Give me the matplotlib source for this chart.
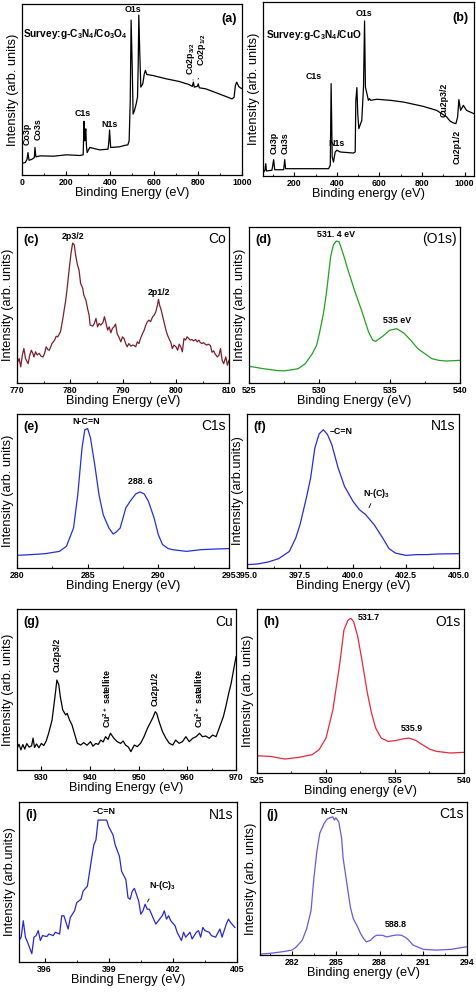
"""XPS survey and high-resolution spectra of g-C3N4/Co3O4 and g-C3N4/CuO (panels a-j)."""

import matplotlib
matplotlib.use("Agg")

import matplotlib.pyplot as plt
from matplotlib.ticker import MultipleLocator, FormatStrFormatter

plt.rcParams["font.family"] = ["Liberation Sans", "DejaVu Sans"]
plt.rcParams["mathtext.fontset"] = "custom"
plt.rcParams["mathtext.rm"] = "Liberation Sans"
plt.rcParams["mathtext.bf"] = "Liberation Sans:bold"

# ── (a) survey g-C3N4/Co3O4 ──────────────────────────────────────
a_ev = [0, 15, 23, 27, 32, 45, 56, 59, 63, 83, 143, 203, 263, 278, 282, 285, 287,
        290, 293, 296, 308, 353, 391, 395, 398, 403, 444, 466, 481, 487, 492, 496,
        501, 505, 511, 519, 525, 528, 531, 535, 540, 549, 556, 561, 567, 594, 654,
        714, 759, 774, 779, 783, 797, 801, 806, 835, 895, 955, 964, 970, 976, 985,
        992, 1000]
a_int = [6.9, 7.3, 9.2, 13.1, 8.6, 9.2, 10.2, 16.1, 10.6, 11.2, 11.0, 11.8, 11.4,
         11.8, 31.4, 20.0, 23.9, 27.0, 17.0, 13.1, 16.1, 14.7, 15.1, 20.0, 26.3,
         16.1, 16.5, 17.3, 17.6, 20.0, 43.5, 90.6, 63.1, 35.7, 37.6, 41.6, 45.5,
         63.1, 93.5, 72.9, 51.4, 53.3, 59.2, 61.2, 58.8, 58.2, 56.3, 54.7, 52.9,
         51.8, 54.3, 51.4, 51.8, 53.3, 51.0, 50.4, 47.5, 44.5, 45.5, 52.4, 54.3,
         51.8, 51.0, 50.5]

# ── (b) survey g-C3N4/CuO ────────────────────────────────────────
b_ev = [53, 62, 66, 69, 95, 103, 108, 150, 155, 159, 244, 361, 369, 373, 378, 384,
        392, 400, 416, 478, 486, 489, 494, 498, 503, 517, 525, 530, 534, 541, 548,
        553, 559, 588, 650, 713, 806, 869, 916, 931, 947, 959, 967, 973, 981, 994,
        1009, 1044]
b_int = [1.7, 3.3, 7.1, 2.9, 3.3, 9.4, 3.6, 3.6, 9.4, 4.2, 4.2, 4.2, 6.1, 53.1,
         10.9, 8.0, 13.8, 14.8, 13.8, 13.2, 13.8, 43.5, 50.8, 35.8, 27.2, 32.0,
         51.1, 89.1, 51.1, 47.3, 43.5, 44.4, 43.5, 44.1, 43.5, 42.5, 40.0, 37.7,
         33.9, 31.6, 30.5, 30.1, 33.9, 43.9, 37.7, 40.6, 37.7, 35.8]

# ── (c) Co 2p ────────────────────────────────────────────────────
c_ev = [770.0, 770.4, 770.7, 771.0, 771.3, 771.6, 772.1, 772.4, 772.7, 773.0,
        773.2, 773.5, 773.8, 774.2, 774.5, 774.9, 775.2, 775.5, 775.8, 776.1,
        776.6, 777.1, 777.4, 777.7, 778.2, 778.6, 778.9, 779.2, 779.5, 779.9,
        780.2, 780.5, 780.8, 781.1, 781.4, 781.7, 782.0, 782.4, 782.6, 783.0,
        783.3, 783.6, 783.8, 784.3, 784.6, 784.9, 785.2, 785.5, 785.8, 786.2,
        786.5, 786.8, 787.1, 787.4, 787.7, 788.0, 788.3, 788.6, 788.9, 789.2,
        789.6, 789.9, 790.2, 790.5, 790.8, 791.1, 791.5, 791.8, 792.1, 792.4,
        792.7, 793.0, 793.3, 793.7, 794.0, 794.3, 794.6, 794.9, 795.2, 795.6,
        795.9, 796.2, 796.5, 796.7, 796.9, 797.2, 797.5, 797.8, 798.1, 798.4,
        798.8, 799.0, 799.3, 799.6, 800.0, 800.3, 800.6, 800.9, 801.2, 801.5,
        801.8, 802.1, 802.4, 802.7, 803.0, 803.3, 803.7, 804.0, 804.3, 804.6,
        804.9, 805.2, 805.5, 805.8, 806.1, 806.5, 806.8, 807.1, 807.4, 807.8,
        808.1, 808.4, 808.7, 809.0, 809.4, 809.7, 810.0]
c_int = [12.4, 15.7, 10.3, 17.8, 22.1, 15.7, 12.4, 17.8, 21.0, 18.9,
         16.7, 20.0, 18.0, 19.0, 17.3, 16.7, 19.0, 23.2, 21.5, 21.0,
         25.3, 27.5, 30.0, 29.6, 32.8, 40.3, 46.8, 53.2, 61.8, 74.7,
         83.3, 89.7, 88.6, 81.1, 75.8, 72.5, 63.9, 60.7, 56.4, 53.2,
         47.9, 43.6, 37.1, 36.5, 38.2, 41.4, 36.0, 38.2, 37.1, 38.6,
         42.5, 38.2, 33.9, 36.0, 32.2, 35.0, 36.0, 37.8, 31.5, 29.6,
         26.4, 29.6, 28.5, 25.3, 23.2, 25.3, 23.6, 24.3, 24.0, 23.2,
         26.4, 25.3, 28.5, 31.8, 33.9, 37.1, 39.3, 40.3, 39.3, 42.5,
         43.6, 45.7, 50.0, 53.6, 50.0, 46.8, 42.5, 38.2, 33.9, 30.7,
         27.5, 26.4, 22.1, 24.3, 23.2, 21.0, 24.9, 23.2, 20.0, 28.5,
         27.5, 29.6, 28.5, 27.5, 27.9, 27.0, 27.9, 26.4, 27.5, 25.9,
         25.3, 25.9, 24.9, 24.3, 24.9, 24.0, 19.7, 20.6, 18.5, 16.7,
         17.8, 22.1, 14.6, 12.4, 16.7, 11.4, 14.6]

# ── (d) O 1s (Co3O4) ─────────────────────────────────────────────
d_ev = [525.0, 525.5, 526.0, 526.5, 527.0, 527.5, 528.0, 528.5, 529.0, 529.5,
        529.8, 530.0, 530.3, 530.5, 530.8, 531.0, 531.2, 531.4, 531.5, 531.8,
        532.0, 532.2, 532.5, 533.0, 533.5, 533.8, 534.0, 534.5, 535.0, 535.5,
        536.0, 536.5, 537.0, 537.5, 538.0, 538.5, 539.0, 539.5, 540.0]
d_int = [10.7, 10.0, 9.2, 8.6, 8.0, 7.8, 8.4, 9.2, 12.4, 18.8,
         24.0, 31.6, 45.0, 57.3, 80.8, 88.5, 91.0, 90.5, 88.2, 79.7,
         73.5, 67.9, 59.4, 46.6, 32.7, 27.4, 26.7, 29.9, 33.8, 34.8,
         32.1, 27.4, 22.0, 18.8, 15.6, 14.5, 14.1, 14.3, 14.5]

# ── (e) C 1s (Co3O4) ─────────────────────────────────────────────
e_ev = [280.0, 281.0, 282.0, 283.0, 283.5, 284.0, 284.3, 284.6, 284.8, 285.0,
        285.2, 285.5, 285.8, 286.1, 286.5, 286.8, 287.0, 287.3, 287.7, 288.0,
        288.4, 288.7, 289.0, 289.3, 289.7, 290.0, 290.3, 290.7, 291.0, 292.0,
        293.0, 294.0, 295.0]
e_int = [8.2, 8.7, 9.3, 10.8, 14.1, 26.0, 47.6, 77.9, 89.8, 90.5,
         84.4, 67.1, 47.6, 34.6, 26.0, 22.1, 23.2, 26.0, 39.0, 43.3,
         48.1, 49.4, 48.1, 43.3, 32.5, 21.6, 15.2, 12.6, 11.9, 10.8,
         11.9, 12.3, 12.6]

# ── (f) N 1s (Co3O4) ─────────────────────────────────────────────
f_ev = [395.0, 395.5, 396.0, 396.5, 397.0, 397.3, 397.5, 397.8, 398.0, 398.2,
        398.4, 398.6, 398.8, 399.0, 399.3, 399.6, 400.0, 400.3, 400.6, 401.0,
        401.4, 401.7, 402.0, 402.5, 403.0, 403.5, 404.0, 405.0]
f_int = [2.2, 2.6, 3.9, 6.1, 10.8, 19.5, 28.1, 45.5, 58.4, 77.9,
         87.0, 89.8, 86.6, 80.1, 64.9, 53.0, 43.3, 37.9, 34.6, 28.1,
         19.5, 12.6, 9.7, 8.2, 8.7, 8.7, 9.1, 9.3]

# ── (g) Cu 2p ────────────────────────────────────────────────────
g_ev = [925.0, 925.4, 925.8, 926.2, 926.6, 927.0, 927.5, 928.0, 928.3, 928.6,
        929.0, 929.5, 930.0, 930.5, 931.0, 931.5, 932.2, 932.8, 933.2, 933.6,
        933.9, 934.4, 935.0, 935.3, 935.8, 936.3, 936.9, 937.4, 938.1, 938.7,
        939.4, 940.1, 940.6, 941.2, 941.7, 942.2, 942.7, 943.2, 943.7, 944.2,
        944.9, 945.6, 946.3, 946.8, 947.3, 947.9, 948.4, 949.1, 949.7, 950.4,
        951.1, 951.8, 952.5, 953.0, 953.4, 953.7, 954.2, 954.9, 955.6, 956.3,
        957.0, 957.6, 958.3, 959.0, 959.7, 960.4, 961.1, 961.8, 962.5, 963.1,
        963.8, 964.5, 965.2, 965.9, 966.4, 966.9, 967.4, 967.9, 968.5, 969.0,
        969.5, 970.0]
g_int = [13.2, 16.0, 12.5, 15.8, 13.0, 16.4, 14.2, 15.0, 19.8, 14.0,
         16.2, 13.8, 16.5, 15.2, 18.0, 22.8, 31.0, 45.5, 55.9, 52.8,
         45.5, 37.3, 34.2, 35.2, 31.0, 28.0, 21.7, 16.6, 15.5, 17.0,
         15.4, 17.6, 14.8, 16.5, 15.9, 18.6, 17.4, 20.7, 19.0, 22.8,
         19.7, 17.6, 16.5, 18.0, 15.5, 14.2, 11.4, 15.5, 14.5, 16.6,
         20.7, 25.9, 30.0, 33.1, 36.2, 35.2, 30.0, 23.8, 19.7, 16.6,
         15.5, 18.6, 16.6, 17.6, 20.7, 17.6, 19.7, 20.7, 22.8, 20.7,
         21.1, 19.7, 21.7, 20.7, 24.8, 29.0, 33.1, 39.3, 47.6, 53.8,
         62.1, 70.4]

# ── (h) O 1s (CuO) ───────────────────────────────────────────────
h_ev = [525.0, 526.0, 527.0, 528.0, 529.0, 529.5, 530.0, 530.5, 531.0, 531.3,
        531.6, 531.8, 532.0, 532.3, 532.6, 533.0, 533.3, 533.6, 534.0, 534.5,
        535.0, 535.5, 536.0, 536.5, 537.0, 537.5, 538.0, 539.0, 540.0]
h_int = [10.5, 10.1, 8.5, 9.5, 11.2, 14.2, 21.3, 38.5, 66.9, 87.2,
         93.3, 94.3, 92.3, 83.2, 69.0, 48.7, 36.5, 27.4, 21.3, 19.3,
         19.7, 20.7, 21.3, 19.9, 17.2, 14.6, 13.2, 12.2, 12.6]

# ── (i) N 1s (CuO) ───────────────────────────────────────────────
i_ev = [394.8, 394.9, 395.0, 395.1, 395.2, 395.4, 395.5, 395.6, 395.7, 395.8,
        395.9, 396.1, 396.2, 396.4, 396.5, 396.7, 396.8, 396.9, 397.1, 397.2,
        397.4, 397.5, 397.7, 397.8, 398.0, 398.2, 398.3, 398.4, 398.5, 398.7,
        398.9, 399.0, 399.2, 399.3, 399.5, 399.6, 399.8, 399.9, 400.0, 400.1,
        400.2, 400.4, 400.5, 400.6, 400.7, 400.8, 400.9, 401.1, 401.2, 401.3,
        401.5, 401.6, 401.7, 401.8, 401.9, 402.1, 402.2, 402.4, 402.5, 402.6,
        402.8, 402.9, 403.1, 403.2, 403.3, 403.4, 403.5, 403.7, 403.8, 404.0,
        404.2, 404.3, 404.5, 404.6, 404.7, 404.9]
i_int = [13.4, 15.5, 25.8, 15.5, 12.4, 5.2, 15.5, 16.5, 19.6, 13.4,
         16.5, 15.9, 17.5, 16.5, 18.6, 17.5, 28.9, 28.9, 20.6, 27.8,
         32.0, 37.1, 39.2, 44.3, 47.4, 64.9, 73.2, 76.3, 88.7, 88.7,
         88.7, 84.5, 79.4, 73.2, 66.0, 56.7, 51.5, 40.2, 39.2, 44.3,
         46.0, 38.1, 29.9, 32.0, 36.1, 33.0, 33.0, 26.8, 23.7, 25.4,
         28.9, 32.0, 26.8, 28.9, 25.8, 22.7, 18.6, 13.4, 18.6, 15.5,
         18.6, 14.4, 18.6, 19.6, 15.5, 21.6, 19.6, 18.6, 16.5, 15.5,
         20.6, 15.5, 23.7, 26.8, 24.7, 21.6]

# ── (j) C 1s (CuO) ───────────────────────────────────────────────
j_ev = [279.8, 280.5, 281.4, 282.0, 282.3, 282.7, 283.0, 283.3, 283.5, 283.7,
        283.9, 284.2, 284.4, 284.6, 284.8, 284.9, 285.0, 285.2, 285.4, 285.5,
        285.8, 286.0, 286.2, 286.5, 286.7, 286.9, 287.1, 287.4, 287.6, 287.8,
        288.2, 288.5, 288.9, 289.2, 289.5, 289.8, 290.0, 290.3, 290.7, 291.0,
        291.9, 292.9, 294.0]
j_int = [0.6, 1.1, 2.2, 3.2, 5.4, 9.7, 17.2, 29.0, 50.5, 67.7,
         79.6, 86.0, 88.8, 89.7, 90.3, 88.2, 89.7, 87.1, 76.3, 63.4,
         44.1, 31.2, 23.7, 18.3, 14.0, 10.8, 8.6, 9.7, 11.8, 12.9,
         12.9, 11.8, 12.7, 13.1, 12.9, 11.4, 9.7, 6.5, 4.9, 3.7,
         3.2, 3.7, 5.4]

# ── layout (axes boxes in pixels: left, top, right, bottom) ──────
W, H = 477, 992
boxes = {
    "a": (22, 4, 242, 175), "b": (263, 2, 474, 176),
    "c": (17, 227, 229, 383), "d": (249, 227, 460, 383),
    "e": (17, 414, 229, 568), "f": (247, 414, 459, 568),
    "g": (17, 609, 236, 770), "h": (257, 609, 464, 773),
    "i": (19, 802, 237, 962), "j": (260, 802, 467, 955),
}

fig = plt.figure(figsize=(W / 100, H / 100), dpi=100)


def make_ax(key, xlim, major, minor, xlabel, ylabel, fmt=None):
    l, t, r, b = boxes[key]
    ax = fig.add_axes([l / W, 1 - b / H, (r - l) / W, (b - t) / H])
    ax.set_xlim(*xlim)
    ax.set_ylim(0, 100)
    ax.xaxis.set_major_locator(MultipleLocator(major))
    ax.xaxis.set_minor_locator(MultipleLocator(minor))
    if fmt:
        ax.xaxis.set_major_formatter(FormatStrFormatter(fmt))
    ax.tick_params(axis="x", which="major", direction="in", length=3, width=0.8,
                   labelsize=6.3, pad=2)
    ax.tick_params(axis="x", which="minor", direction="in", length=1.8, width=0.6)
    ax.set_yticks([])
    for lab in ax.get_xticklabels():
        lab.set_fontweight("bold")
    for sp in ax.spines.values():
        sp.set_linewidth(0.9)
    ax.set_xlabel(xlabel, fontsize=9.2, labelpad=0.5)
    ax.set_ylabel(ylabel, fontsize=9.2, labelpad=2)
    return ax


def corner(ax, letter, elem=None, efs=10):
    ax.text(0.03, 0.955, f"({letter})", transform=ax.transAxes, fontsize=9,
            fontweight="bold", va="top", ha="left")
    if elem:
        ax.text(0.985, 0.965, elem, transform=ax.transAxes, fontsize=efs,
                va="top", ha="right")


lbl = dict(fontsize=6.4, fontweight="bold", ha="center", va="center")
lblr = dict(fontsize=6.4, fontweight="bold", ha="center", va="center", rotation=90)
IAU = "Intensity (arb. units)"

# (a)
ax = make_ax("a", (0, 1000), 200, 100, "Binding Energy (eV)", IAU)
ax.plot(a_ev, a_int, color="black", lw=0.9)
ax.text(0.975, 0.945, "(a)", transform=ax.transAxes, fontsize=9, fontweight="bold",
        ha="right", va="top")
ax.text(5, 82.7, r"Survey:g-C$_\mathbf{3}$N$_\mathbf{4}$/Co$_\mathbf{3}$O$_\mathbf{4}$",
        fontsize=7.3, fontweight="bold", ha="left", va="center")
ax.text(504, 96.5, "O1s", **lbl)
ax.text(278, 35.7, "C1s", **lbl)
ax.text(398, 29.4, "N1s", **lbl)
ax.text(24, 24, "Co3p", **lblr)
ax.text(72, 27, "Co3s", **lblr)
ax.text(768, 68, r"Co2p$_\mathbf{3/2}$", **lblr)
ax.text(818, 73, r"Co2p$_\mathbf{1/2}$", **lblr)
ax.annotate("", xy=(778, 55.5), xytext=(770, 57),
            arrowprops=dict(arrowstyle="-", lw=0.6))
ax.annotate("", xy=(800, 56), xytext=(808, 58),
            arrowprops=dict(arrowstyle="-", lw=0.6))

# (b)
ax = make_ax("b", (53, 1044), 200, 100, "Binding energy (eV)", IAU)
ax.plot(b_ev, b_int, color="black", lw=0.9)
ax.text(0.975, 0.945, "(b)", transform=ax.transAxes, fontsize=9, fontweight="bold",
        ha="right", va="top")
ax.text(67, 80.8, r"Survey:g-C$_\mathbf{3}$N$_\mathbf{4}$/CuO",
        fontsize=7.3, fontweight="bold", ha="left", va="center")
ax.text(528, 93.5, "O1s", **lbl)
ax.text(290, 57.3, "C1s", **lbl)
ax.text(400, 18.6, "N1s", **lbl)
ax.text(106, 19, "Cu3p", **lblr)
ax.text(158, 19, "Cu3s", **lblr)
ax.text(903, 43.5, "Cu2p3/2", **lblr)
ax.text(965, 16.5, "Cu2p1/2", **lblr)

# (c)
ax = make_ax("c", (770, 810), 10, 5, "Binding Energy (eV)", IAU)
ax.plot(c_ev, c_int, color="#7a1f2e", lw=0.9)
corner(ax, "c", "Co")
ax.text(780.6, 94, "2p3/2", **lbl)
ax.text(796.7, 58, "2p1/2", **lbl)

# (d)
ax = make_ax("d", (525, 540), 5, 2.5, "Binding Energy (eV)", IAU)
ax.plot(d_ev, d_int, color="#22a022", lw=0.9)
corner(ax, "d", "(O1s)")
ax.text(531.2, 95, "531. 4 eV", **lbl)
ax.text(535.5, 40, "535 eV", **lbl)

# (e)
ax = make_ax("e", (280, 295), 5, 2.5, "Binding Energy (eV)", IAU)
ax.plot(e_ev, e_int, color="#2230d8", lw=0.9)
corner(ax, "e", "C1s")
ax.text(284.9, 95, "N-C=N", **lbl)
ax.text(288.7, 56, "288. 6", **lbl)

# (f)
ax = make_ax("f", (395, 405), 2.5, 1.25, "Binding Energy (eV)",
             "Intensity (arb.units)", fmt="%.1f")
ax.plot(f_ev, f_int, color="#2a2ad8", lw=0.9)
corner(ax, "f", "N1s")
ax.text(398.9, 88.5, "–C=N", fontsize=6.4, fontweight="bold", ha="left", va="center")
ax.text(401.1, 48.5, r"N-(C)$_\mathbf{3}$", **lbl)
ax.annotate("", xy=(400.7, 37.5), xytext=(400.9, 43.5),
            arrowprops=dict(arrowstyle="-", lw=0.6))

# (g)
ax = make_ax("g", (925, 970), 10, 5, "Binding Energy (eV)", IAU)
ax.plot(g_ev, g_int, color="black", lw=0.9)
corner(ax, "g", "Cu")
rb = dict(fontsize=6.4, fontweight="bold", ha="center", va="bottom", rotation=90)
ax.text(933.3, 61, "Cu2p3/2", **rb)
ax.text(943.5, 26, r"Cu$^\mathbf{2+}$ satellite", **rb)
ax.text(953.4, 39.5, "Cu2p1/2", **rb)
ax.text(962.5, 26, r"Cu$^\mathbf{2+}$ satallite", **rb)

# (h)
ax = make_ax("h", (525, 540), 5, 2.5, "Binding energy (eV)", IAU)
ax.plot(h_ev, h_int, color="#e8283c", lw=0.9)
corner(ax, "h", "O1s")
ax.text(532.3, 95, "531.7", fontsize=6.4, fontweight="bold", ha="left", va="center")
ax.text(536.2, 27, "535.9", **lbl)

# (i)
ax = make_ax("i", (394.8, 405), 3, 1.5, "Binding Energy (eV)",
             "Intensity (arb.units)")
ax.xaxis.set_major_locator(plt.FixedLocator([396, 399, 402, 405]))
ax.xaxis.set_minor_locator(plt.FixedLocator([397.5, 400.5, 403.5]))
for lab in ax.get_xticklabels():
    lab.set_fontweight("bold")
ax.plot(i_ev, i_int, color="#2828d0", lw=0.9)
corner(ax, "i", "N1s")
ax.text(398.8, 94, "–C=N", **lbl)
ax.text(401.5, 48, r"N-(C)$_\mathbf{3}$", **lbl)
ax.annotate("", xy=(400.75, 36), xytext=(400.95, 41),
            arrowprops=dict(arrowstyle="-", lw=0.6))

# (j)
ax = make_ax("j", (279.8, 294), 3, 1.5, "Binding energy (eV)", IAU)
ax.xaxis.set_major_locator(plt.FixedLocator([282, 285, 288, 291, 294]))
ax.xaxis.set_minor_locator(plt.FixedLocator([280.5, 283.5, 286.5, 289.5, 292.5]))
for lab in ax.get_xticklabels():
    lab.set_fontweight("bold")
ax.plot(j_ev, j_int, color="#6a58e0", lw=0.9)
corner(ax, "j", "C1s")
ax.text(284.9, 94, "N-C=N", **lbl)
ax.text(289.1, 20, "588.8", **lbl)

fig.savefig("out.png", dpi=100)
